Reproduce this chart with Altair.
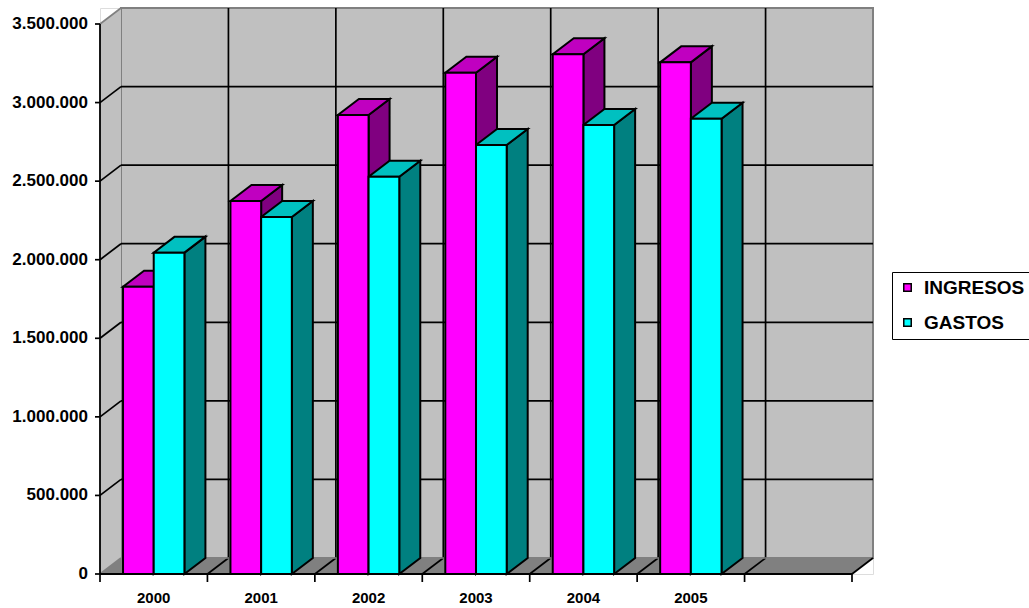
import altair as alt
import pandas as pd

# ---------------- data ----------------
years = ["2000", "2001", "2002", "2003", "2004", "2005"]
series_names = ["INGRESOS", "GASTOS"]
ingresos = [1828000, 2374000, 2921000, 3190000, 3307000, 3256000]
gastos = [2045000, 2272000, 2528000, 2730000, 2857000, 2897000]
y_tick_values = [0, 500000, 1000000, 1500000, 2000000, 2500000, 3000000, 3500000]
y_tick_labels = ["0", "500.000", "1.000.000", "1.500.000", "2.000.000",
                 "2.500.000", "3.000.000", "3.500.000"]
n_slots = 7  # 6 years + one empty slot

# ---------------- styling / geometry ----------------
front_colors = ["#ff00ff", "#00ffff"]
top_colors = ["#c000c0", "#00c0c0"]
side_colors = ["#800080", "#008080"]
WALL = "#c0c0c0"
FLOOR = "#808080"
EDGE = "#808080"
FONT = "Liberation Sans"

CAT_PX = 107.4
DX_PX = 21.0
DY_PX = 16.0
FRONT_H = 550.0
VMAX = y_tick_values[-1]
v_per_px = VMAX / FRONT_H
dxu = DX_PX / CAT_PX
dyv = DY_PX * v_per_px
W = round(n_slots * CAT_PX + DX_PX)
H = round(FRONT_H + DY_PX)

bw = 1 / 3.5          # bar width (gap width 150%)
off = 0.75 * bw       # group offset inside a slot

xs = alt.Scale(domain=[0, n_slots + dxu], nice=False, zero=False)
ys = alt.Scale(domain=[0, VMAX + dyv], nice=False, zero=False)

def X(f="x"):
    return alt.X(f + ":Q", scale=xs, axis=None)

def Y(f="y"):
    return alt.Y(f + ":Q", scale=ys, axis=None)

def rules(rows, color, width):
    df = pd.DataFrame(rows, columns=["x", "y", "x2", "y2"])
    return alt.Chart(df).mark_rule(color=color, strokeWidth=width).encode(
        x=X(), y=Y(), x2="x2:Q", y2="y2:Q")

# ---------------- walls & floor ----------------
wall_df = pd.DataFrame([{"x": dxu, "x2": n_slots + dxu, "y": dyv, "y2": VMAX + dyv}])
back_wall = alt.Chart(wall_df).mark_rect(fill=WALL, stroke=EDGE, strokeWidth=2).encode(
    x=X(), x2="x2:Q", y=Y(), y2="y2:Q")

left_df = pd.DataFrame([{"x": 0, "y": 0, "y2": VMAX}, {"x": dxu, "y": dyv, "y2": VMAX + dyv}])
left_wall = alt.Chart(left_df).mark_area(orient="vertical", fill=WALL).encode(
    x=X(), y=alt.Y("y:Q", scale=ys, axis=None, stack=None), y2="y2:Q")

floor_df = pd.DataFrame([{"y": 0, "x": 0, "x2": n_slots}, {"y": dyv, "x": dxu, "x2": n_slots + dxu}])
floor = alt.Chart(floor_df).mark_area(orient="horizontal", fill=FLOOR).encode(
    y=Y(), x=alt.X("x:Q", scale=xs, axis=None, stack=None), x2="x2:Q")

grid_rows = []
for v in y_tick_values[1:-1]:
    grid_rows.append([dxu, v + dyv, n_slots + dxu, v + dyv])   # back wall horizontal
    grid_rows.append([0, v, dxu, v + dyv])                      # left wall diagonal
for i in range(1, n_slots):
    grid_rows.append([i + dxu, dyv, i + dxu, VMAX + dyv])        # back wall vertical
    grid_rows.append([i, 0, i + dxu, dyv])                      # floor diagonal
grid = rules(grid_rows, "black", 1.7)

edges_gray = rules([[0, VMAX, dxu, VMAX + dyv], [0, 0, dxu, dyv],
                    [dxu, dyv, n_slots + dxu, dyv]], EDGE, 1.7)
edges_black = rules([[0, 0, 0, VMAX], [0, 0, n_slots, 0],
                     [n_slots, 0, n_slots + dxu, dyv]], "black", 1.8)

# ---------------- bars ----------------
fronts, sides, tops = [], [], []
vals = [ingresos, gastos]
for i, yr in enumerate(years):
    for s in range(2):
        l = i + off + s * bw
        r = l + bw
        v = vals[s][i]
        face = f"{yr}-{s}"
        fronts.append({"x": l, "x2": r, "y": 0, "y2": v, "series": series_names[s]})
        sides.append({"face": face, "x": r, "y": 0, "y2": v, "col": side_colors[s]})
        sides.append({"face": face, "x": r + dxu, "y": dyv, "y2": v + dyv, "col": side_colors[s]})
        tops.append({"face": face, "y": v, "x": l, "x2": r, "col": top_colors[s]})
        tops.append({"face": face, "y": v + dyv, "x": l + dxu, "x2": r + dxu, "col": top_colors[s]})

side_layer = alt.Chart(pd.DataFrame(sides)).mark_area(
    orient="vertical", stroke="black", strokeWidth=2, strokeJoin="miter").encode(
    x=X(), y=alt.Y("y:Q", scale=ys, axis=None, stack=None), y2="y2:Q",
    fill=alt.Fill("col:N", scale=None), detail="face:N")

top_layer = alt.Chart(pd.DataFrame(tops)).mark_area(
    orient="horizontal", stroke="black", strokeWidth=2, strokeJoin="miter").encode(
    y=Y(), x=alt.X("x:Q", scale=xs, axis=None, stack=None), x2="x2:Q",
    fill=alt.Fill("col:N", scale=None), detail="face:N")

front_layer = alt.Chart(pd.DataFrame(fronts)).mark_rect(stroke="black", strokeWidth=2).encode(
    x=X(), x2="x2:Q", y=Y(), y2="y2:Q",
    color=alt.Color("series:N", scale=alt.Scale(domain=series_names, range=front_colors),
                    legend=alt.Legend(title=None, orient="none", legendX=792, legendY=264,
                                      padding=6, strokeColor="black", fillColor="white",
                                      labelFont=FONT, labelFontSize=19, labelFontWeight="bold",
                                      labelColor="black", rowPadding=15, symbolSize=56,
                                      symbolType="square", symbolStrokeColor="black",
                                      symbolStrokeWidth=1.5, labelOffset=7)))

# ---------------- ticks & labels ----------------
ytick_rows = [[0, v, -5 / CAT_PX, v] for v in y_tick_values]
yticks = rules(ytick_rows, "black", 1.7)
xtick_rows = [[i, 0, i, -8 * v_per_px] for i in range(n_slots + 1)]
xticks = rules(xtick_rows, "black", 1.7)

ylab_df = pd.DataFrame({"x": [0] * len(y_tick_values), "y": y_tick_values, "t": y_tick_labels})
ylabels = alt.Chart(ylab_df).mark_text(align="right", baseline="middle", dx=-12,
                                       font=FONT, fontSize=17, fontWeight="bold",
                                       color="black").encode(x=X(), y=Y(), text="t:N")

xlab_df = pd.DataFrame({"x": [i + 0.5 for i in range(len(years))], "y": [0] * len(years), "t": years})
xlabels = alt.Chart(xlab_df).mark_text(align="center", baseline="middle", dy=24,
                                       font=FONT, fontSize=15, fontWeight="bold",
                                       color="black").encode(x=X(), y=Y(), text="t:N")

chart = alt.layer(
    back_wall, left_wall, floor, grid, edges_gray, edges_black,
    side_layer, top_layer, front_layer, yticks, xticks, ylabels, xlabels
).properties(
    width=W, height=H,
    autosize=alt.AutoSizeParams(type="none"),
    padding={"left": 100, "top": 8, "right": 1029 - 100 - W, "bottom": 608 - 8 - H},
).configure_view(stroke=None).configure(background="white")

chart.save("out.html", embed_options={"renderer": "svg", "actions": False})
